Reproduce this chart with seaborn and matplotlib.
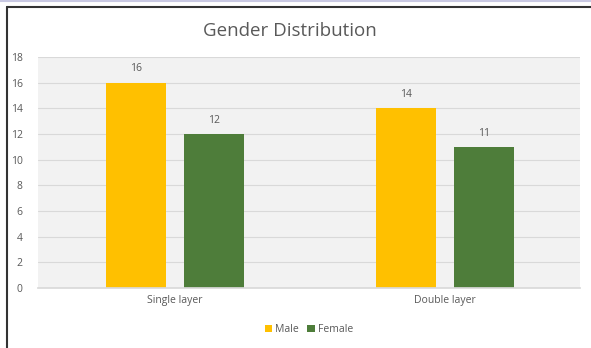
import pandas as pd
import seaborn as sns
import matplotlib.pyplot as plt
from matplotlib.lines import Line2D

categories = ["Single layer", "Double layer"]
male = [16, 14]
female = [12, 11]
series = ["Male", "Female"]
colors = {"Male": "#FFC000", "Female": "#4E7D3A"}

df = pd.DataFrame({
    "layer": categories * 2,
    "gender": ["Male"] * 2 + ["Female"] * 2,
    "count": male + female,
})

sns.set_theme(style="white")
plt.rcParams['font.family'] = ['Open Sans', 'DejaVu Sans']
text_grey = "#595959"

fig = plt.figure(figsize=(5.91, 3.48), dpi=100)
ax = fig.add_axes([0.064, 0.172, 0.917, 0.664])
ax.set_facecolor("#F2F2F2")

sns.barplot(data=df, x="layer", y="count", hue="gender", hue_order=series,
            palette=colors, width=0.576, gap=0.23, ax=ax, legend=True,
            saturation=1, linewidth=0)

for c in ax.containers:
    ax.bar_label(c, padding=6, fontsize=7.5, color=text_grey)

ax.set_ylim(0, 18)
ax.set_yticks(range(0, 19, 2))
ax.set_xlim(-0.507, 1.5)
ax.grid(axis="y", color="#D9D9D9", linewidth=0.8)
ax.set_axisbelow(True)
for s in ["top", "right", "left"]:
    ax.spines[s].set_visible(False)
ax.spines["bottom"].set_color("#D9D9D9")
ax.tick_params(axis="both", length=0, labelsize=7.5, colors=text_grey, pad=5)
ax.tick_params(axis="y", pad=11)
ax.set_xlabel("")
ax.set_ylabel("")

fig.text(0.49, 0.912, "Gender Distribution", ha="center", va="center",
         fontsize=13.5, color=text_grey)

leg = ax.legend(loc="center", bbox_to_anchor=(0.5, -0.18), ncol=2, frameon=False,
                fontsize=7.5, handlelength=0.7, handleheight=0.7,
                handletextpad=0.3, columnspacing=0.8)
for t in leg.get_texts():
    t.set_color(text_grey)

# outer frame lines
fig.add_artist(Line2D([0, 1], [0.996, 0.996], color="#C9C9E3", linewidth=1.5))
fig.add_artist(Line2D([0.0125, 0.0125], [0, 0.98], color="#333333", linewidth=1.5))
fig.add_artist(Line2D([0.0125, 1], [0.98, 0.98], color="#333333", linewidth=1.5))

fig.savefig("out.png", dpi=100)
